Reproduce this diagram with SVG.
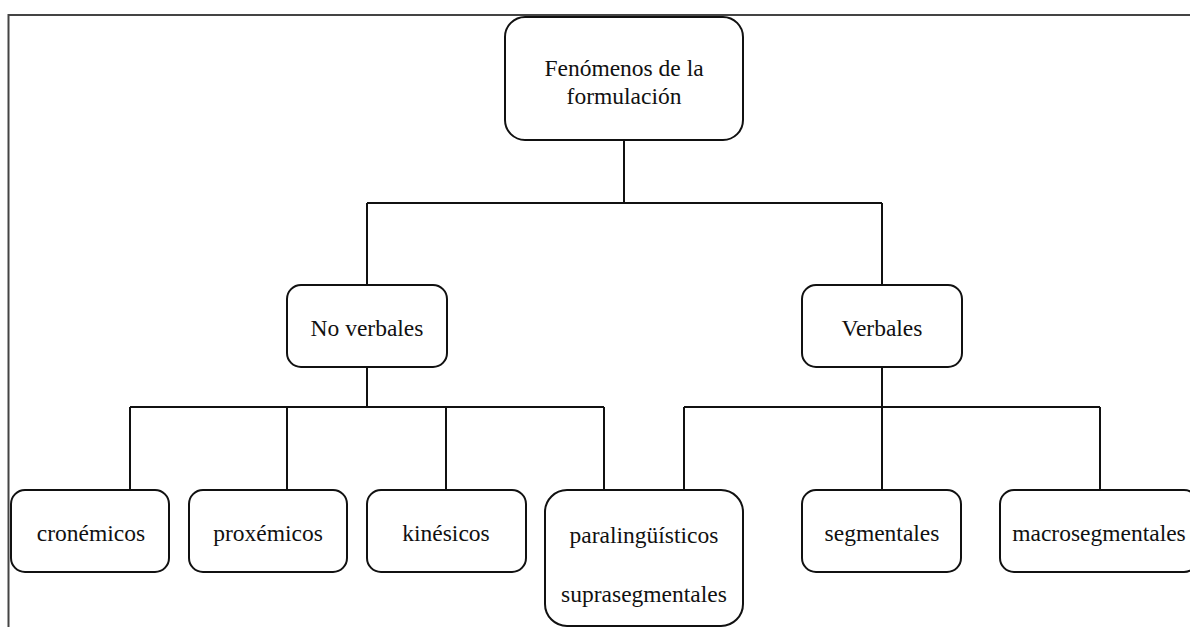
<svg xmlns="http://www.w3.org/2000/svg" width="1190" height="627" viewBox="0 0 1190 627">
<style>
.box{fill:#fff;stroke:#111;stroke-width:2}
.con{fill:none;stroke:#111;stroke-width:2}
.t{font-family:"Liberation Serif","Times New Roman",serif;font-size:23.5px;fill:#111;text-anchor:middle}
</style>
<rect x="0" y="0" width="1190" height="627" fill="#fff"/>
<rect x="8.5" y="15" width="1200" height="700" fill="none" stroke="#444" stroke-width="2"/>
<g id="connectors">
<path class="con" d="M624 140V203M367 203H882M367 203V285M882 203V285"/>
<path class="con" d="M367 367V407M130 407H604M130 407V490M287 407V490M446 407V490M604 407V490"/>
<path class="con" d="M882 367V407M684 407H1100M684 407V490M882 407V490M1100 407V490"/>
</g>
<g id="root">
<rect class="box" x="505" y="17" width="238" height="123" rx="20"/>
<text class="t" x="624" y="76">Fenómenos de la</text>
<text class="t" x="624" y="104">formulación</text>
</g>
<g id="noverbales">
<rect class="box" x="287" y="285" width="160" height="82" rx="14"/>
<text class="t" x="367" y="336">No verbales</text>
</g>
<g id="verbales">
<rect class="box" x="802" y="285" width="160" height="82" rx="14"/>
<text class="t" x="882" y="336">Verbales</text>
</g>
<g id="cronemicos">
<rect class="box" x="11" y="490" width="158" height="82" rx="14"/>
<text class="t" x="91" y="541">cronémicos</text>
</g>
<g id="proxemicos">
<rect class="box" x="189" y="490" width="158" height="82" rx="14"/>
<text class="t" x="268" y="541">proxémicos</text>
</g>
<g id="kinesicos">
<rect class="box" x="367" y="490" width="159" height="82" rx="14"/>
<text class="t" x="446" y="541">kinésicos</text>
</g>
<g id="paralinguisticos">
<rect class="box" x="545" y="490" width="198" height="136" rx="22"/>
<text class="t" x="644" y="543">paralingüísticos</text>
<text class="t" x="644" y="602">suprasegmentales</text>
</g>
<g id="segmentales">
<rect class="box" x="802" y="490" width="159" height="82" rx="14"/>
<text class="t" x="882" y="541">segmentales</text>
</g>
<g id="macrosegmentales">
<rect class="box" x="1000" y="490" width="198" height="82" rx="14"/>
<text class="t" x="1099" y="541">macrosegmentales</text>
</g>
</svg>
